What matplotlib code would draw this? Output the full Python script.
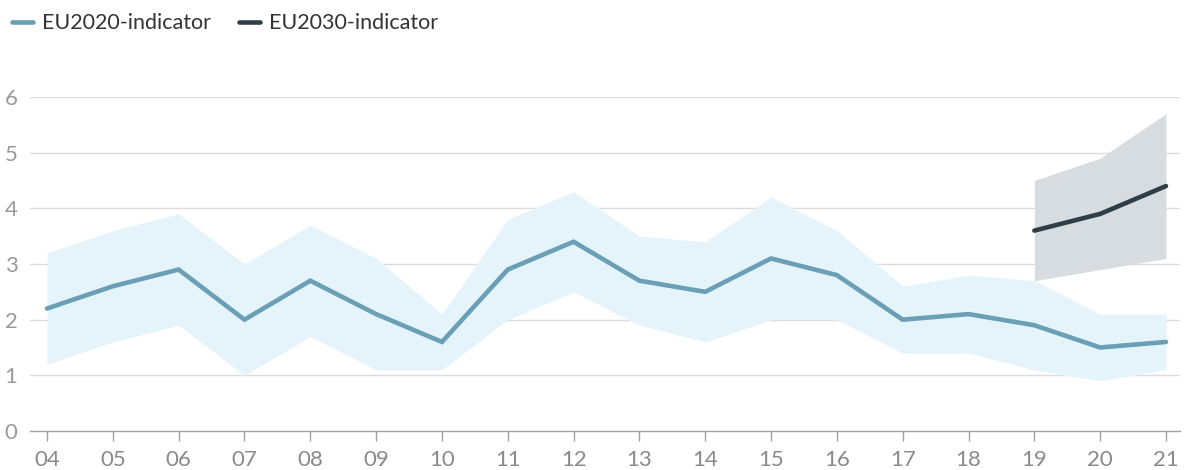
import matplotlib
matplotlib.use("Agg")
import matplotlib.pyplot as plt
import numpy as np

plt.rcParams['font.family'] = ['Lato', 'DejaVu Sans']

years = ["04", "05", "06", "07", "08", "09", "10", "11", "12", "13", "14", "15", "16", "17", "18", "19", "20", "21"]
eu2020 = [2.2, 2.6, 2.9, 2.0, 2.7, 2.1, 1.6, 2.9, 3.4, 2.7, 2.5, 3.1, 2.8, 2.0, 2.1, 1.9, 1.5, 1.6]
eu2020_hi = [3.2, 3.6, 3.9, 3.0, 3.7, 3.1, 2.1, 3.8, 4.3, 3.5, 3.4, 4.2, 3.6, 2.6, 2.8, 2.7, 2.1, 2.1]
eu2020_lo = [1.2, 1.6, 1.9, 1.0, 1.7, 1.1, 1.1, 2.0, 2.5, 1.9, 1.6, 2.0, 2.0, 1.4, 1.4, 1.1, 0.9, 1.1]
years2030 = ["19", "20", "21"]
eu2030 = [3.6, 3.9, 4.4]
eu2030_hi = [4.5, 4.9, 5.7]
eu2030_lo = [2.7, 2.9, 3.1]
yticks = [0, 1, 2, 3, 4, 5, 6]

x = np.arange(len(years))
x30 = np.array([years.index(y) for y in years2030])

fig = plt.figure(figsize=(11.84, 4.70), dpi=100)
ax = fig.add_axes([30/1184, 1 - 431/470, 1150/1184, (431 - 97)/470])

ax.fill_between(x, eu2020_lo, eu2020_hi, color='#e5f4fb', linewidth=0, zorder=1)
ax.fill_between(x30, eu2030_lo, eu2030_hi, color='#d6dcdf', linewidth=0, zorder=1)
l1, = ax.plot(x, eu2020, color='#6a9fb5', linewidth=3.3, solid_capstyle='round', solid_joinstyle='miter', zorder=3, label='EU2020-indicator')
l2, = ax.plot(x30, eu2030, color='#2f3e46', linewidth=3.3, solid_capstyle='round', zorder=3, label='EU2030-indicator')

ax.set_ylim(0, 6)
ax.set_xlim(-17/65.8, len(years) - 1 + 14/65.8)
ax.set_yticks(yticks)
ax.set_xticks(x)
ax.set_xticklabels(years)
ax.grid(axis='y', color='#dcdcdc', linewidth=1, zorder=0)
ax.set_axisbelow(True)
for s in ['top', 'right', 'left']:
    ax.spines[s].set_visible(False)
ax.spines['bottom'].set_color('#a0a0a0')
ax.spines['bottom'].set_linewidth(1)
ax.tick_params(axis='x', colors='#a0a0a0', length=7, width=1, labelsize=16, labelcolor='#8a8a8a', pad=7)
ax.tick_params(axis='y', length=0, labelsize=16, labelcolor='#9a9a9a', pad=9)
ax.yaxis.get_gridlines()[0].set_visible(False)

fig.legend(handles=[l1, l2], loc='upper left', bbox_to_anchor=(-0.001, 0.999), ncol=2, frameon=False,
           fontsize=15.5, handlelength=1.0, handletextpad=0.4, columnspacing=1.3, labelcolor='#333333',
           borderaxespad=0.2)

fig.savefig('out.png', dpi=100)
